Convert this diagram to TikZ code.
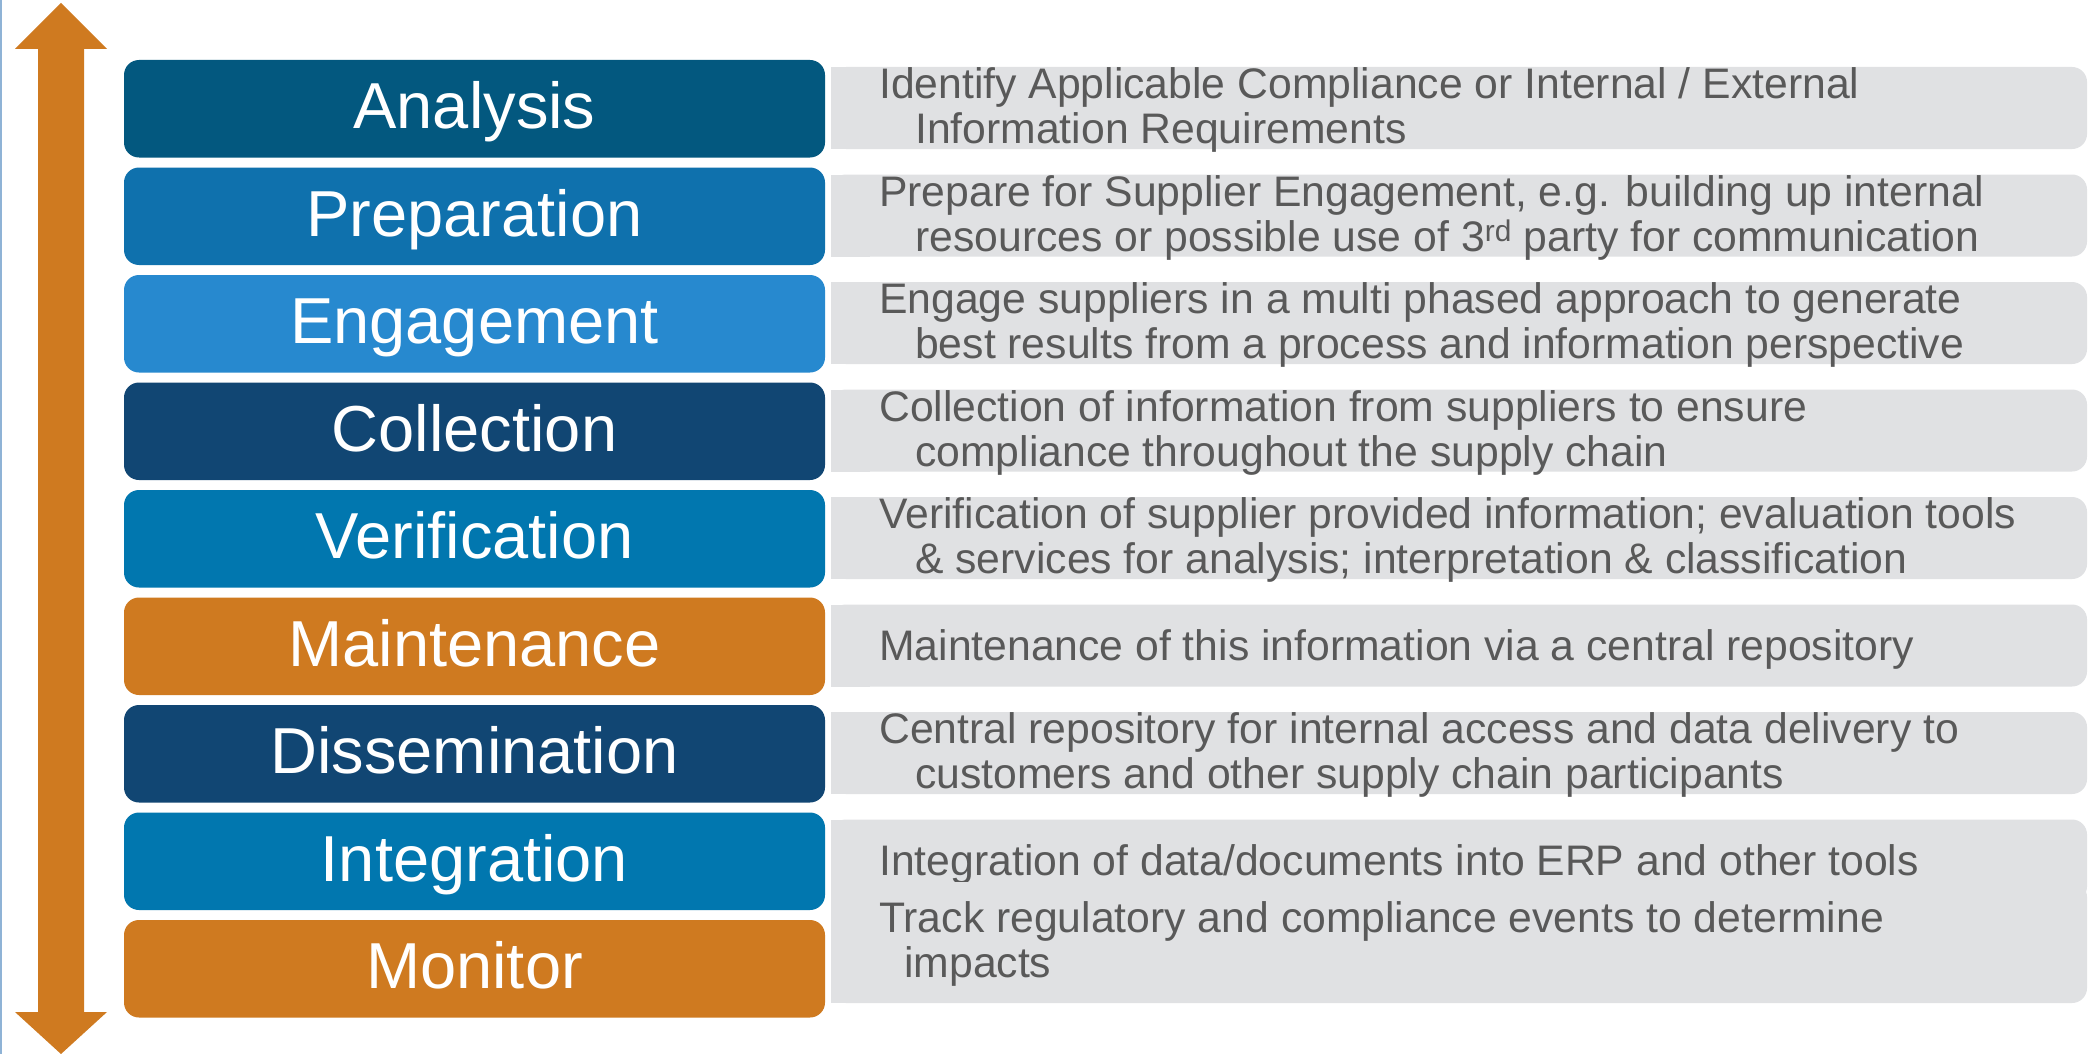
\documentclass[tikz,border=0pt]{standalone}
\usepackage{fontspec}
\setmainfont{Liberation Sans}
\definecolor{cAna}{HTML}{03587F}
\definecolor{cPrep}{HTML}{0F71AD}
\definecolor{cEng}{HTML}{2789CF}
\definecolor{cDark}{HTML}{114673}
\definecolor{cVer}{HTML}{0177AF}
\definecolor{cOrange}{HTML}{CF7A20}
\definecolor{cGray}{HTML}{E0E1E3}
\definecolor{cText}{HTML}{595959}
\definecolor{cEdge}{HTML}{8FB3D6}
\tikzset{
  cbox/.style={rectangle, rounded corners=15pt, minimum width=701pt, minimum height=97.5pt,
    inner sep=0pt, text height=45pt, text depth=5.5pt, text=white,
    font=\fontsize{65}{70}\selectfont},
  gfill/.style={fill=cGray},
  desc/.style={anchor=base west, inner sep=0pt, align=left, text=cText,
    font=\fontsize{42.7}{45}\selectfont},
}
\newcommand{\grayband}[2]{%
  \fill[gfill, rounded corners=15pt] (831,#1) rectangle (2087,#2);
  \fill[gfill] (831,#1) rectangle (870,#2);}
\begin{document}
\begin{tikzpicture}[x=1pt,y=-1pt]
\useasboundingbox (0,0) rectangle (2090,1054);
\fill[white] (0,0) rectangle (2090,1054);
% left edge line
\draw[cEdge, line width=2pt] (1,0) -- (1,1054);
% double arrow
\fill[cOrange] (61,3) -- (107,49) -- (84,49) -- (84,1012) -- (107,1012) -- (61,1054)
  -- (15,1012) -- (38,1012) -- (38,49) -- (15,49) -- cycle;
% gray bands and descriptions (base anchor = baseline of last line)
\grayband{67}{149}
\node[desc] (d1) at (879,143.5) {Identify Applicable Compliance or Internal / External\\\hspace*{36pt}Information Requirements};
\grayband{174.5}{256.5}
\node[desc] (d2) at (879,251) {Prepare for Supplier Engagement, e.g. building up internal\\\hspace*{36pt}resources or possible use of 3\textsuperscript{rd} party for communication};
\grayband{282}{364}
\node[desc] (d3) at (879,358.5) {Engage suppliers in a multi phased approach to generate\\\hspace*{36pt}best results from a process and information perspective};
\grayband{389.5}{471.5}
\node[desc] (d4) at (879,466) {Collection of information from suppliers to ensure\\\hspace*{36pt}compliance throughout the supply chain};
\grayband{497}{579}
\node[desc] (d5) at (879,573.5) {Verification of supplier provided information; evaluation tools\\\hspace*{36pt}\& services for analysis; interpretation \& classification};
\grayband{604.5}{686.5}
\node[desc] (d6) at (879,660) {Maintenance of this information via a central repository};
\grayband{712}{794}
\node[desc] (d7) at (879,788.5) {Central repository for internal access and data delivery to\\\hspace*{36pt}customers and other supply chain participants};
\grayband{819.5}{901.5}
\node[desc] (d8) at (879,875) {Integration of data/documents into ERP and other tools};
\grayband{882}{1003}
\node[desc] (d9) at (879,977) {Track regulatory and compliance events to determine\\\hspace*{25pt}impacts};
% coloured step boxes
\node[cbox, fill=cAna]    (analysis)      at (474.5,108.75) {Analysis};
\node[cbox, fill=cPrep]   (preparation)   at (474.5,216.25) {Preparation};
\node[cbox, fill=cEng]    (engagement)    at (474.5,323.75) {Engagement};
\node[cbox, fill=cDark]   (collection)    at (474.5,431.25) {Collection};
\node[cbox, fill=cVer]    (verification)  at (474.5,538.75) {Verification};
\node[cbox, fill=cOrange] (maintenance)   at (474.5,646.25) {Maintenance};
\node[cbox, fill=cDark]   (dissemination) at (474.5,753.75) {Dissemination};
\node[cbox, fill=cVer]    (integration)   at (474.5,861.25) {Integration};
\node[cbox, fill=cOrange] (monitor)       at (474.5,968.75) {Monitor};
\end{tikzpicture}
\end{document}
